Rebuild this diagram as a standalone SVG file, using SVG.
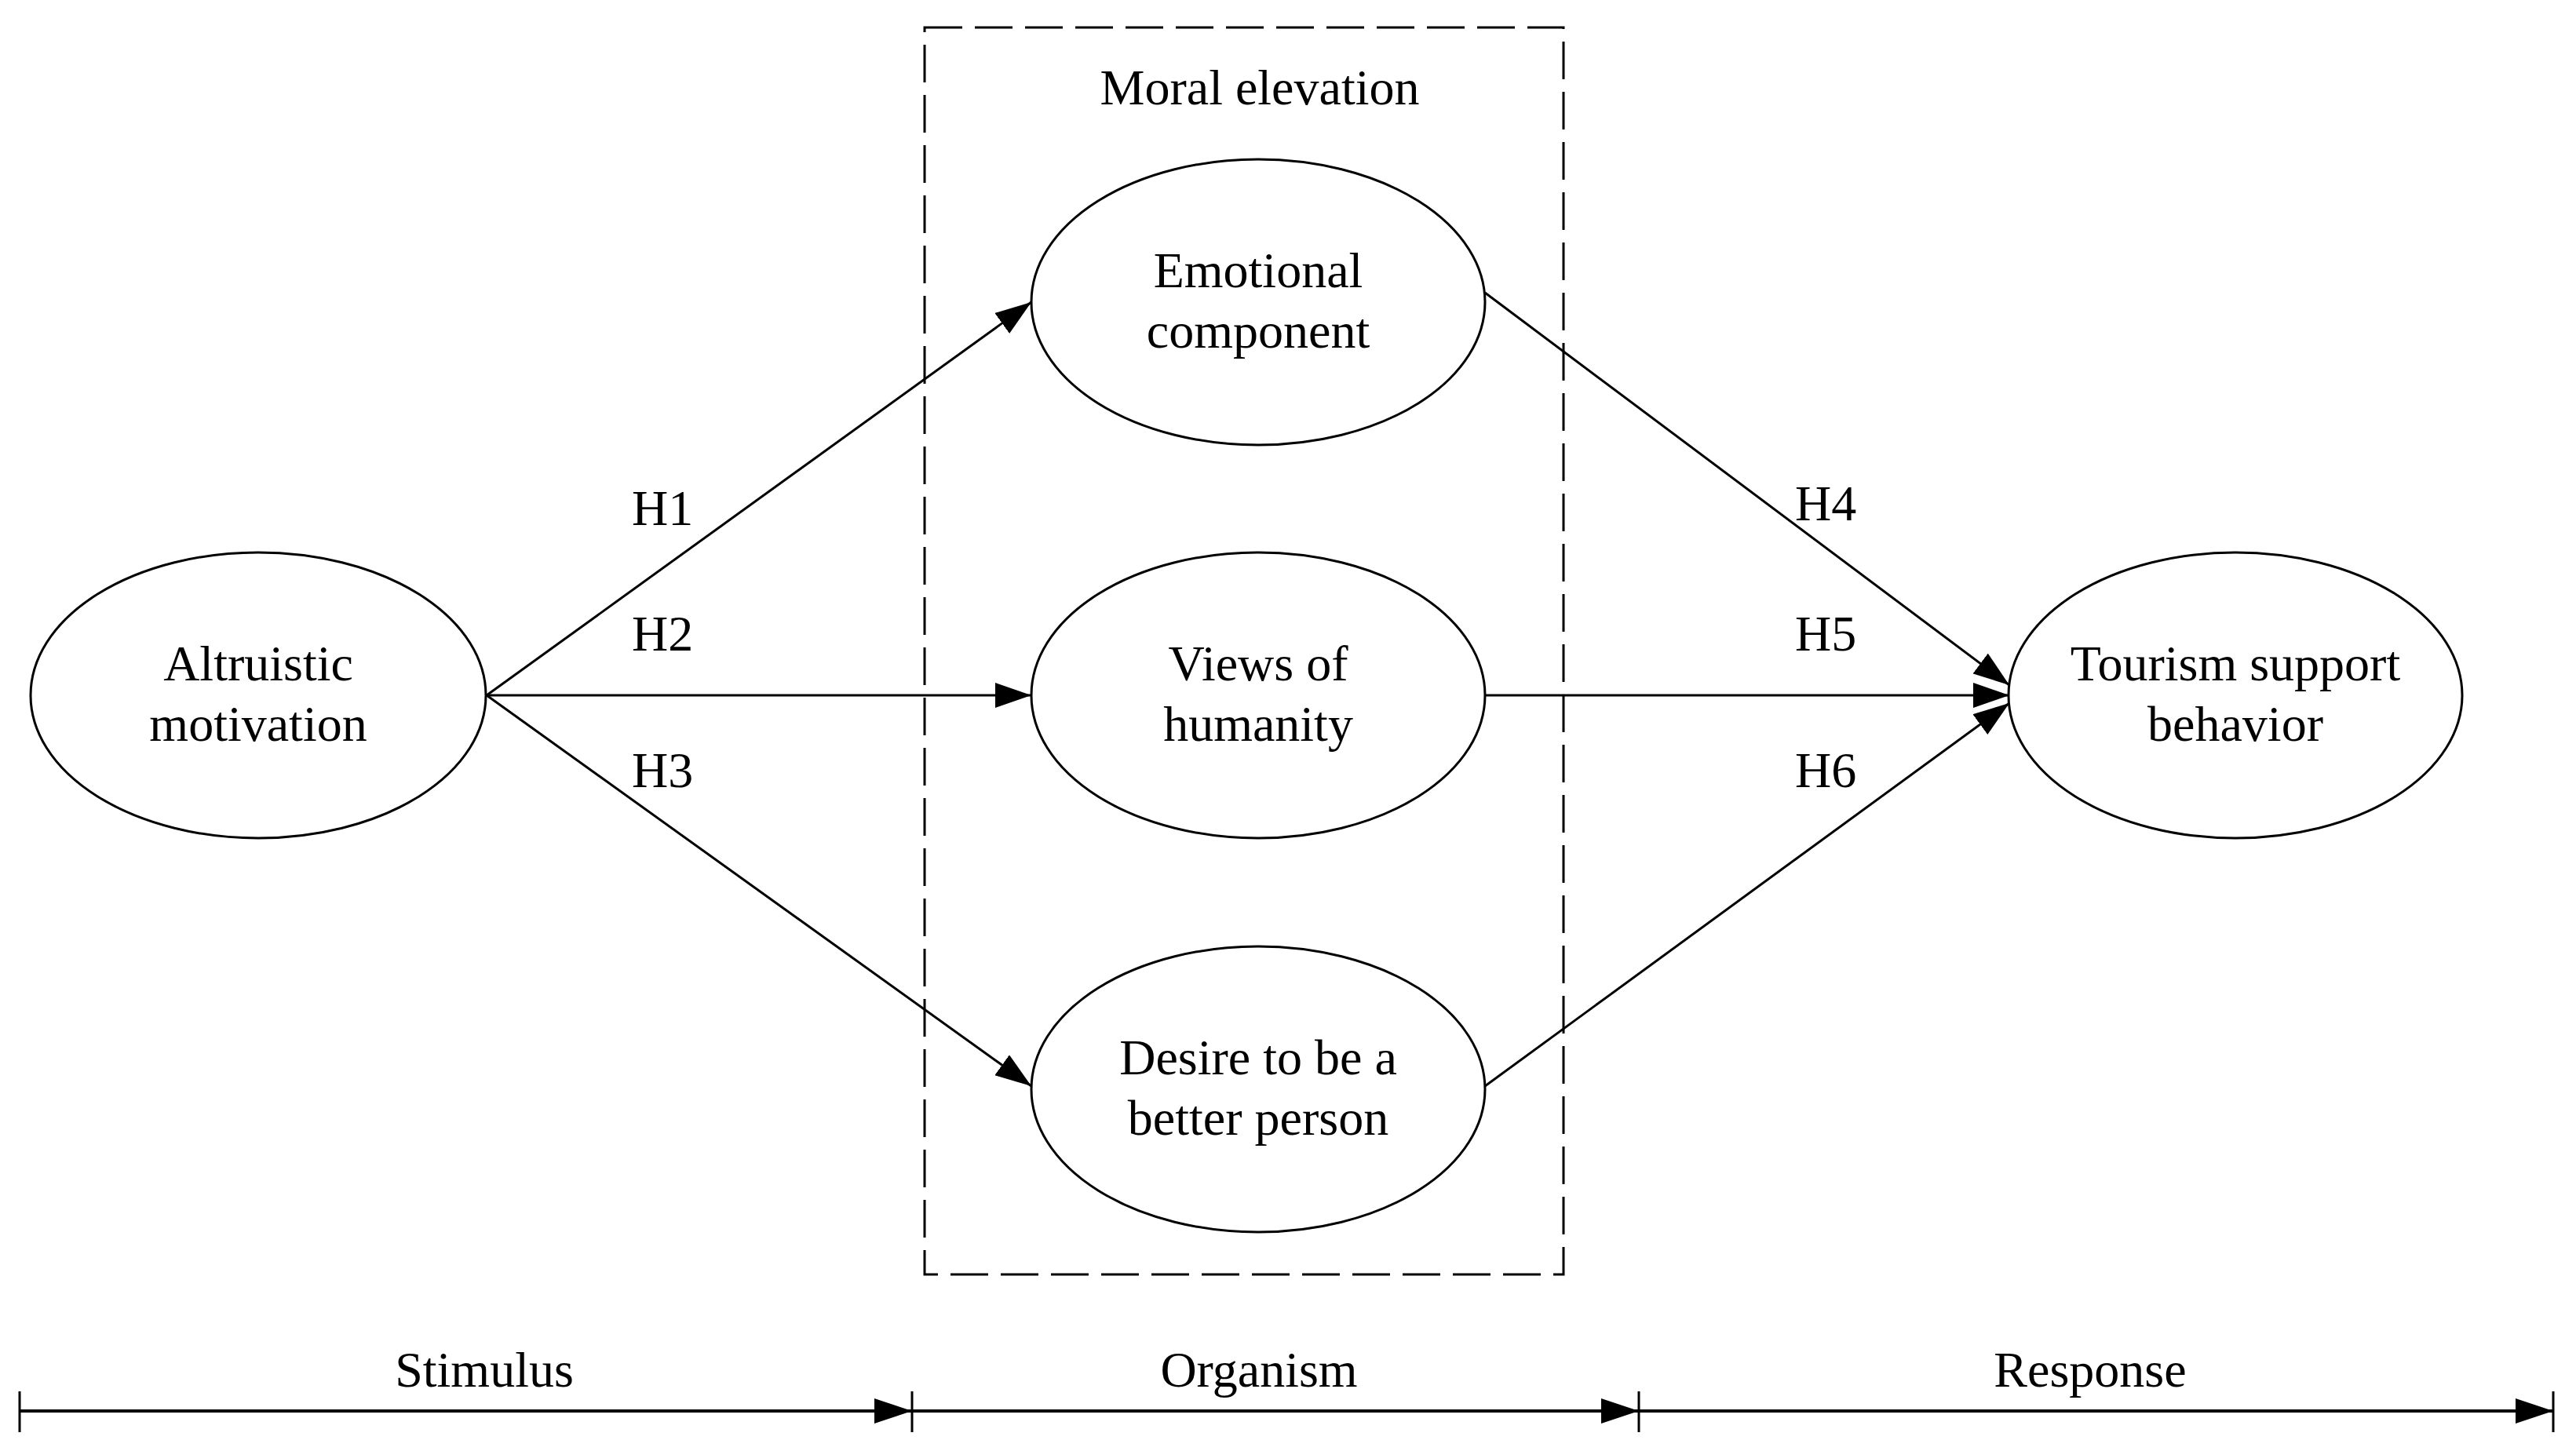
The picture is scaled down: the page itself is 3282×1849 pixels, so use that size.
<svg xmlns="http://www.w3.org/2000/svg" width="3282" height="1849" viewBox="0 0 3282 1849">
<style>
  .node ellipse { fill: #ffffff; stroke: #000000; stroke-width: 3; }
  text { font-family: "Liberation Serif", "Times New Roman", serif; font-size: 64px; fill: #000000; }
  .c { text-anchor: middle; }
  .conn line { stroke: #000000; stroke-width: 3; fill: none; }
  .axis line { stroke: #000000; stroke-width: 4; }
  .axis .tick { stroke-width: 3; }
  .box { fill: none; stroke: #000000; stroke-width: 3; stroke-dasharray: 48 16; }
</style>
<defs>
  <marker id="arr" markerUnits="userSpaceOnUse" markerWidth="46" markerHeight="32" refX="46" refY="16" orient="auto">
    <path d="M0,0 L46,16 L0,32 z" fill="#000000"/>
  </marker>
  <marker id="axarr" markerUnits="userSpaceOnUse" markerWidth="48" markerHeight="32" refX="48" refY="16" orient="auto">
    <path d="M0,0 L48,16 L0,32 z" fill="#000000"/>
  </marker>
</defs>
<rect x="0" y="0" width="3282" height="1849" fill="#ffffff"/>

<g id="moral-elevation">
  <rect class="box" x="1178" y="35" width="814" height="1589"/>
  <text class="c" x="1605" y="133">Moral elevation</text>
</g>

<g id="connectors" class="conn">
  <line x1="620" y1="886" x2="1314" y2="385" marker-end="url(#arr)"/>
  <line x1="620" y1="886" x2="1314" y2="886" marker-end="url(#arr)"/>
  <line x1="620" y1="886" x2="1314" y2="1384" marker-end="url(#arr)"/>
  <line x1="1892" y1="373" x2="2560" y2="873" marker-end="url(#arr)"/>
  <line x1="1892" y1="886" x2="2560" y2="886" marker-end="url(#arr)"/>
  <line x1="1892" y1="1384" x2="2560" y2="896" marker-end="url(#arr)"/>
  <text x="805" y="669">H1</text>
  <text x="805" y="829">H2</text>
  <text x="805" y="1003">H3</text>
  <text x="2287" y="663">H4</text>
  <text x="2287" y="829">H5</text>
  <text x="2287" y="1003">H6</text>
</g>

<g id="altruistic-motivation" class="node">
  <ellipse cx="329" cy="886" rx="290" ry="182"/>
  <text class="c" x="329" y="867">Altruistic</text>
  <text class="c" x="329" y="944">motivation</text>
</g>

<g id="emotional-component" class="node">
  <ellipse cx="1603" cy="385" rx="289" ry="182"/>
  <text class="c" x="1603" y="366">Emotional</text>
  <text class="c" x="1603" y="443">component</text>
</g>

<g id="views-of-humanity" class="node">
  <ellipse cx="1603" cy="886" rx="289" ry="182"/>
  <text class="c" x="1603" y="867">Views of</text>
  <text class="c" x="1603" y="944">humanity</text>
</g>

<g id="desire-better-person" class="node">
  <ellipse cx="1603" cy="1388" rx="289" ry="182"/>
  <text class="c" x="1603" y="1369">Desire to be a</text>
  <text class="c" x="1603" y="1446">better person</text>
</g>

<g id="tourism-support-behavior" class="node">
  <ellipse cx="2848" cy="886" rx="289" ry="182"/>
  <text class="c" x="2848" y="867">Tourism support</text>
  <text class="c" x="2848" y="944">behavior</text>
</g>

<g id="sor-axis" class="axis">
  <line x1="25" y1="1798" x2="1162" y2="1798" marker-end="url(#axarr)"/>
  <line x1="1162" y1="1798" x2="2088" y2="1798" marker-end="url(#axarr)"/>
  <line x1="2088" y1="1798" x2="3253" y2="1798" marker-end="url(#axarr)"/>
  <line class="tick" x1="25" y1="1773" x2="25" y2="1825"/>
  <line class="tick" x1="1162" y1="1773" x2="1162" y2="1825"/>
  <line class="tick" x1="2088" y1="1773" x2="2088" y2="1825"/>
  <line class="tick" x1="3253" y1="1773" x2="3253" y2="1825"/>
  <text class="c" x="617" y="1767">Stimulus</text>
  <text class="c" x="1604" y="1767">Organism</text>
  <text class="c" x="2663" y="1767">Response</text>
</g>
</svg>
